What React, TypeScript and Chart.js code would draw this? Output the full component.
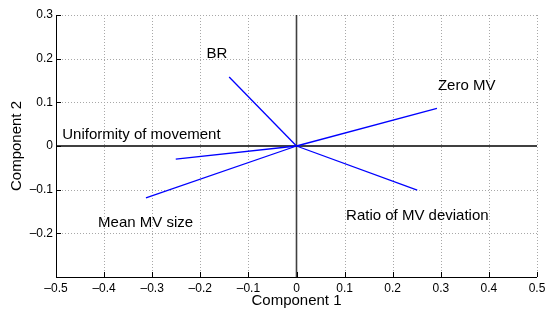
import React, { useEffect, useRef } from "react";
import { Chart, registerables } from "chart.js";

Chart.register(...registerables);

const variableNames = ["BR", "Zero MV", "Uniformity of movement", "Mean MV size", "Ratio of MV deviation"];
const component1Loadings = [-0.14, 0.292, -0.251, -0.313, 0.251];
const component2Loadings = [0.158, 0.086, -0.03, -0.119, -0.101];
const labelPosX = [-0.187, 0.294, -0.487, -0.4125, 0.103];
const labelPosY = [0.212, 0.137, 0.025, -0.175, -0.159];

const xTickValues = [-0.5, -0.4, -0.3, -0.2, -0.1, 0, 0.1, 0.2, 0.3, 0.4, 0.5];
const xTickLabels = ["\u20130.5", "\u20130.4", "\u20130.3", "\u20130.2", "\u20130.1", "0", "0.1", "0.2", "0.3", "0.4", "0.5"];
const yTickValues = [-0.3, -0.2, -0.1, 0, 0.1, 0.2, 0.3];
const yTickLabels = ["", "\u20130.2", "\u20130.1", "0", "0.1", "0.2", "0.3"];

const xTitle = "Component 1";
const yTitle = "Component 2";

const FONT = "'Liberation Sans', Arial, Helvetica, sans-serif";

const biplotPlugin = {
  id: "biplotDecor",
  beforeDatasetsDraw(chart: any) {
    const { ctx, chartArea } = chart;
    const xs = chart.scales.x;
    const ys = chart.scales.y;
    const { left, right, top, bottom } = chartArea;
    ctx.save();
    ctx.strokeStyle = "#a8a8a8";
    ctx.lineWidth = 1;
    ctx.setLineDash([1, 2]);
    xTickValues.forEach((v) => {
      if (v === 0 || v === xTickValues[0]) return;
      const px = Math.round(xs.getPixelForValue(v)) + 0.5;
      ctx.beginPath();
      ctx.moveTo(px, top);
      ctx.lineTo(px, bottom);
      ctx.stroke();
    });
    yTickValues.forEach((v) => {
      if (v === 0 || v === yTickValues[0]) return;
      const py = Math.round(ys.getPixelForValue(v)) + 0.5;
      ctx.beginPath();
      ctx.moveTo(left, py);
      ctx.lineTo(right, py);
      ctx.stroke();
    });
    ctx.setLineDash([]);
    const x0 = xs.getPixelForValue(0);
    const y0 = ys.getPixelForValue(0);
    ctx.strokeStyle = "rgba(0,0,0,0.75)";
    ctx.lineWidth = 1.6;
    ctx.beginPath();
    ctx.moveTo(x0, top);
    ctx.lineTo(x0, bottom);
    ctx.stroke();
    ctx.strokeStyle = "#000";
    ctx.lineWidth = 1.5;
    ctx.beginPath();
    ctx.moveTo(left, y0);
    ctx.lineTo(right, y0);
    ctx.stroke();
    ctx.lineWidth = 1;
    ctx.beginPath();
    ctx.moveTo(Math.round(left) + 0.5, top);
    ctx.lineTo(Math.round(left) + 0.5, bottom + 0.5);
    ctx.lineTo(right, bottom + 0.5);
    ctx.stroke();
    const tl = 5;
    ctx.beginPath();
    xTickValues.forEach((v) => {
      const px = Math.round(xs.getPixelForValue(v)) + 0.5;
      ctx.moveTo(px, bottom);
      ctx.lineTo(px, bottom - tl);
    });
    yTickValues.forEach((v) => {
      const py = Math.round(ys.getPixelForValue(v)) + 0.5;
      ctx.moveTo(left, py);
      ctx.lineTo(left + tl, py);
    });
    ctx.stroke();
    ctx.restore();
  },
  afterDatasetsDraw(chart: any) {
    const { ctx } = chart;
    const xs = chart.scales.x;
    const ys = chart.scales.y;
    ctx.save();
    ctx.fillStyle = "#000";
    ctx.font = `15px ${FONT}`;
    ctx.textAlign = "left";
    ctx.textBaseline = "middle";
    variableNames.forEach((name, i) => {
      ctx.fillText(name, xs.getPixelForValue(labelPosX[i]), ys.getPixelForValue(labelPosY[i]));
    });
    ctx.restore();
  },
  afterDraw(chart: any) {
    const { ctx, chartArea } = chart;
    ctx.save();
    ctx.fillStyle = "#000";
    ctx.font = `15px ${FONT}`;
    ctx.textAlign = "center";
    ctx.textBaseline = "middle";
    ctx.fillText(xTitle, (chartArea.left + chartArea.right) / 2, 301);
    ctx.translate(17, (chartArea.top + chartArea.bottom) / 2);
    ctx.rotate(-Math.PI / 2);
    ctx.fillText(yTitle, 0, 0);
    ctx.restore();
  },
};

export default function App() {
  const canvasRef = useRef<HTMLCanvasElement | null>(null);

  useEffect(() => {
    document.body.style.margin = "0";
    const canvas = canvasRef.current;
    if (!canvas) return;
    Chart.defaults.font.family = FONT;

    const datasets = variableNames.map((name, i) => ({
      label: name,
      data: [
        { x: 0, y: 0 },
        { x: component1Loadings[i], y: component2Loadings[i] },
      ],
      showLine: true,
      borderColor: "#0000ff",
      backgroundColor: "#0000ff",
      borderWidth: 1.3,
      pointRadius: 0,
      pointHoverRadius: 0,
    }));

    const chart = new Chart(canvas, {
      type: "scatter",
      data: { datasets },
      plugins: [biplotPlugin],
      options: {
        animation: false,
        responsive: true,
        maintainAspectRatio: false,
        events: [],
        layout: { padding: { top: 15, right: 9, left: 0, bottom: 0 } },
        plugins: {
          legend: { display: false },
          tooltip: { enabled: false },
          title: { display: false },
        },
        scales: {
          x: {
            type: "linear",
            min: -0.5,
            max: 0.5,
            grid: { display: false, drawTicks: false },
            border: { display: false },
            afterBuildTicks: (scale: any) => {
              scale.ticks = xTickValues.map((v) => ({ value: v }));
            },
            afterFit: (scale: any) => {
              scale.height = 34;
              scale.paddingRight = 0;
              scale.paddingLeft = 0;
            },
            ticks: {
              autoSkip: false,
              maxRotation: 0,
              padding: 4,
              color: "#000",
              font: { size: 12, family: FONT },
              callback: (value: any) => {
                const idx = xTickValues.findIndex((v) => Math.abs(v - Number(value)) < 1e-9);
                return idx >= 0 ? xTickLabels[idx] : "";
              },
            },
          },
          y: {
            type: "linear",
            min: -0.3,
            max: 0.3,
            grid: { display: false, drawTicks: false },
            border: { display: false },
            afterBuildTicks: (scale: any) => {
              scale.ticks = yTickValues.map((v) => ({ value: v }));
            },
            afterFit: (scale: any) => {
              scale.width = 56;
              scale.paddingTop = 0;
              scale.paddingBottom = 0;
            },
            ticks: {
              autoSkip: false,
              padding: 3,
              color: "#000",
              font: { size: 12, family: FONT },
              callback: (value: any) => {
                const idx = yTickValues.findIndex((v) => Math.abs(v - Number(value)) < 1e-9);
                return idx >= 0 ? yTickLabels[idx] : "";
              },
            },
          },
        },
      },
    });

    return () => {
      chart.destroy();
    };
  }, []);

  return (
    <div style={{ position: "fixed", left: 0, top: 0, width: 546, height: 311, background: "#fff" }}>
      <canvas ref={canvasRef} />
    </div>
  );
}
